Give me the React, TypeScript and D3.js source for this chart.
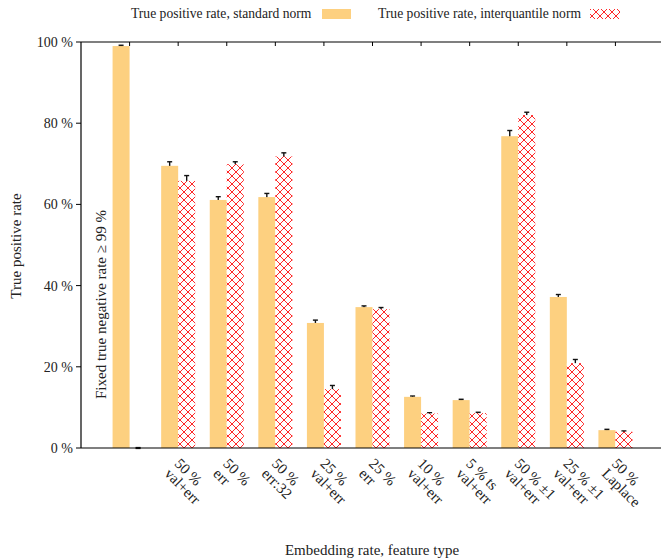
import React from "react";
import * as d3 from "d3";

const categories = [
  ["", ""],
  ["50 %", "val+err"],
  ["50 %", "err"],
  ["50 %", "err:32"],
  ["25 %", "val+err"],
  ["25 %", "err"],
  ["10 %", "val+err"],
  ["5 % ts", "val+err"],
  ["50 % ±1", "val+err"],
  ["25 % ±1", "val+err"],
  ["50 %", "Laplace"],
];
const standardValues = [99.0, 69.5, 61.1, 61.8, 30.8, 34.7, 12.6, 11.8, 76.8, 37.2, 4.4];
const standardErrors = [0.2, 1.0, 0.8, 0.9, 0.7, 0.3, 0.2, 0.2, 1.4, 0.6, 0.2];
const iqValues = [0.0, 65.8, 69.9, 71.8, 14.5, 34.2, 8.5, 8.6, 82.0, 20.9, 4.0];
const iqErrors = [0.1, 1.3, 0.6, 0.9, 0.9, 0.4, 0.2, 0.2, 0.7, 0.9, 0.2];
const yTicks = [0, 20, 40, 60, 80, 100];

const FONT = "'Liberation Serif', 'DejaVu Serif', serif";
const TXT = "#222";

export default function App() {
  const W = 661, H = 558;
  const x = d3.scaleLinear().domain([-1, 11]).range([81, 664]);
  const y = d3.scaleLinear().domain([0, 100]).range([448, 42]);
  const bw = x(0.35) - x(0);

  const errBar = (cx: number, v: number, e: number, key: string) => (
    <g key={key} stroke="#111" strokeWidth={1.4}>
      <line x1={cx} x2={cx} y1={y(v - e)} y2={y(v + e)} />
      <line x1={cx - 2.5} x2={cx + 2.5} y1={y(v + e)} y2={y(v + e)} />
      <line x1={cx - 2.5} x2={cx + 2.5} y1={y(v - e)} y2={y(v - e)} />
    </g>
  );

  return (
    <svg width={W} height={H} style={{ position: "absolute", left: 0, top: 0 }} fontFamily={FONT}>
      <defs>
        <pattern id="hatch" width="8" height="8" patternUnits="userSpaceOnUse">
          <rect width="8" height="8" fill="#fff" />
          <path d="M0,0 L8,8 M8,0 L0,8" stroke="#ff1010" strokeWidth={0.9} />
        </pattern>
      </defs>
      <rect width={W} height={H} fill="#fff" />

      {/* legend */}
      <text x={131} y={18} fontSize={13.6} fill={TXT}>True positive rate, standard norm</text>
      <rect x={322} y={9} width={29} height={10} fill="#fdd080" />
      <text x={378} y={18} fontSize={13.6} fill={TXT}>True positive rate, interquantile norm</text>
      <rect x={590} y={9} width={30} height={10} fill="url(#hatch)" />

      {/* error bars first (bars cover lower half) */}
      {standardValues.map((v, i) => errBar(x(i) - bw / 2, v, standardErrors[i], "se" + i))}
      {iqValues.map((v, i) => errBar(x(i) + bw / 2, v, iqErrors[i], "ie" + i))}

      {/* bars */}
      {standardValues.map((v, i) => (
        <rect key={"s" + i} x={x(i) - bw} y={y(v)} width={bw} height={y(0) - y(v)} fill="#fdd080" />
      ))}
      {iqValues.map((v, i) => (
        <rect key={"q" + i} x={x(i)} y={y(v)} width={bw} height={y(0) - y(v)} fill="url(#hatch)" />
      ))}

      {/* frame */}
      <line x1={81} x2={81} y1={42} y2={448} stroke="#000" strokeWidth={1.2} />
      <line x1={81} x2={664} y1={448} y2={448} stroke="#000" strokeWidth={1.2} />
      <line x1={81} x2={664} y1={42} y2={42} stroke="#000" strokeWidth={1.2} />

      {/* top ticks */}
      {categories.map((c, i) => (
        <line key={"tt" + i} x1={x(i)} x2={x(i)} y1={42} y2={46} stroke="#000" />
      ))}

      {/* y ticks */}
      {yTicks.map((t) => (
        <g key={"yt" + t}>
          <line x1={76} x2={81} y1={y(t)} y2={y(t)} stroke="#000" />
          <text x={73} y={y(t) + 5} fontSize={14} textAnchor="end" fill={TXT}>{t + " %"}</text>
        </g>
      ))}

      {/* x labels */}
      {categories.map((c, i) =>
        c[0] ? (
          <text key={"xl" + i} transform={`translate(${x(i) + 3},${457}) rotate(45)`} fontSize={15} fill={TXT}>
            <tspan x={0} dy="0.7em">{c[0]}</tspan>
            <tspan x={0} dy="0.95em">{c[1]}</tspan>
          </text>
        ) : null
      )}

      {/* annotation */}
      <text transform={`translate(106,399) rotate(-90)`} fontSize={15} fill={TXT}>
        {"Fixed true negative rate ≥ 99 %"}
      </text>

      {/* axis titles */}
      <text transform={`translate(21,246) rotate(-90)`} fontSize={15} textAnchor="middle" fill={TXT}>True positive rate</text>
      <text x={372} y={555} fontSize={15} textAnchor="middle" fill={TXT}>Embedding rate, feature type</text>
    </svg>
  );
}
